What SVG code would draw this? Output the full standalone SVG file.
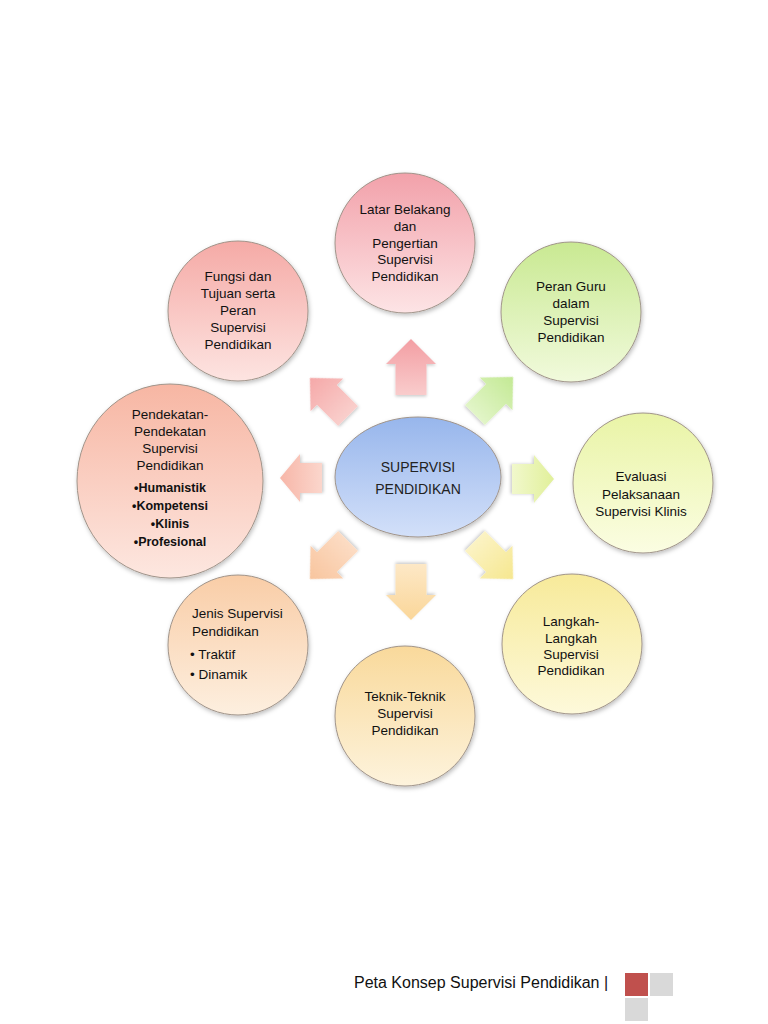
<svg xmlns="http://www.w3.org/2000/svg" width="768" height="1024" viewBox="0 0 768 1024">
<style>
.t{font-family:"Liberation Sans",Arial,sans-serif;font-size:13.5px;fill:#111;text-anchor:middle}
.b{font-family:"Liberation Sans",Arial,sans-serif;font-size:12.5px;font-weight:bold;fill:#111;text-anchor:middle}
.l{font-family:"Liberation Sans",Arial,sans-serif;font-size:13.5px;fill:#111}
.c{font-family:"Liberation Sans",Arial,sans-serif;font-size:14px;fill:#222;text-anchor:middle}
.n{stroke:#a0948a;stroke-width:1;filter:url(#sh)}
.a{filter:url(#ash)}
</style>
<defs>
<filter id="sh" x="-20%" y="-20%" width="140%" height="140%"><feDropShadow dx="1" dy="2" stdDeviation="2" flood-color="#000" flood-opacity="0.25"/></filter>
<filter id="ash" x="-30%" y="-30%" width="160%" height="160%"><feDropShadow dx="0" dy="1.5" stdDeviation="1.5" flood-color="#000" flood-opacity="0.2"/></filter>
<linearGradient id="g1" x1="0" y1="0" x2="0" y2="1"><stop offset="0" stop-color="#f2a1aa"/><stop offset="1" stop-color="#fde4e5"/></linearGradient>
<linearGradient id="g2" x1="0" y1="0" x2="0" y2="1"><stop offset="0" stop-color="#f5aaa6"/><stop offset="1" stop-color="#fde4e1"/></linearGradient>
<linearGradient id="g3" x1="0" y1="0" x2="0" y2="1"><stop offset="0" stop-color="#c9e992"/><stop offset="1" stop-color="#f1fadc"/></linearGradient>
<linearGradient id="g4" x1="0" y1="0" x2="0" y2="1"><stop offset="0" stop-color="#f7b6a3"/><stop offset="1" stop-color="#fde7e0"/></linearGradient>
<linearGradient id="g5" x1="0" y1="0" x2="0" y2="1"><stop offset="0" stop-color="#e9f4a6"/><stop offset="1" stop-color="#fbfde2"/></linearGradient>
<linearGradient id="g6" x1="0" y1="0" x2="0" y2="1"><stop offset="0" stop-color="#f9cda7"/><stop offset="1" stop-color="#fdefdf"/></linearGradient>
<linearGradient id="g7" x1="0" y1="0" x2="0" y2="1"><stop offset="0" stop-color="#f7ea9a"/><stop offset="1" stop-color="#fdf9da"/></linearGradient>
<linearGradient id="g8" x1="0" y1="0" x2="0" y2="1"><stop offset="0" stop-color="#f9d99b"/><stop offset="1" stop-color="#fdf3dc"/></linearGradient>
<linearGradient id="gc" x1="0" y1="0" x2="0" y2="1"><stop offset="0" stop-color="#97b6ec"/><stop offset="1" stop-color="#d3e0f9"/></linearGradient>
<linearGradient id="au" x1="0" y1="0" x2="0" y2="1"><stop offset="0" stop-color="#f39ea3"/><stop offset="1" stop-color="#f9cccc"/></linearGradient>
<linearGradient id="aul" x1="0" y1="0" x2="0" y2="1"><stop offset="0" stop-color="#f5a8a8"/><stop offset="1" stop-color="#f9cfcc"/></linearGradient>
<linearGradient id="al" x1="0" y1="0" x2="0" y2="1"><stop offset="0" stop-color="#f7b6a8"/><stop offset="1" stop-color="#fbd6cc"/></linearGradient>
<linearGradient id="adl" x1="0" y1="0" x2="0" y2="1"><stop offset="0" stop-color="#f8c59e"/><stop offset="1" stop-color="#fcdcc4"/></linearGradient>
<linearGradient id="ad" x1="0" y1="0" x2="0" y2="1"><stop offset="0" stop-color="#fad699"/><stop offset="1" stop-color="#fde8c6"/></linearGradient>
<linearGradient id="adr" x1="0" y1="0" x2="0" y2="1"><stop offset="0" stop-color="#f6e78f"/><stop offset="1" stop-color="#fbf3c4"/></linearGradient>
<linearGradient id="ar" x1="0" y1="0" x2="0" y2="1"><stop offset="0" stop-color="#e1f09a"/><stop offset="1" stop-color="#f1f8cc"/></linearGradient>
<linearGradient id="aur" x1="0" y1="0" x2="0" y2="1"><stop offset="0" stop-color="#c3e994"/><stop offset="1" stop-color="#e2f5c8"/></linearGradient>
<path id="av" d="M0,-28 L25,-3 L15.5,-3 L15.5,28 L-15.5,28 L-15.5,-3 L-25,-3 Z"/>
<path id="ah" d="M0,-21 L24,-1 L15,-1 L15,21 L-15,21 L-15,-1 L-24,-1 Z"/>
<path id="ag" d="M0,-27 L23,-3 L14,-3 L14,27 L-14,27 L-14,-3 L-23,-3 Z"/>
</defs>
<rect width="768" height="1024" fill="#fff"/>

<g id="connectors">
<use href="#av" fill="url(#au)" class="a" transform="translate(411,367)"/>
<use href="#ag" fill="url(#aur)" class="a" transform="translate(494,396) rotate(45)"/>
<use href="#ah" fill="url(#ar)" class="a" transform="translate(533,479) rotate(90)"/>
<use href="#ag" fill="url(#adr)" class="a" transform="translate(494,560) rotate(135)"/>
<use href="#av" fill="url(#ad)" class="a" transform="translate(411,592) rotate(180)"/>
<use href="#ag" fill="url(#adl)" class="a" transform="translate(329,560) rotate(225)"/>
<use href="#ah" fill="url(#al)" class="a" transform="translate(301,478) rotate(270)"/>
<use href="#ag" fill="url(#aul)" class="a" transform="translate(329,397) rotate(315)"/>
</g>

<g id="node-center">
<ellipse class="n" cx="418" cy="477" rx="83" ry="60" fill="url(#gc)" stroke="#5b6f98"/>
<text class="c" x="418" y="472">SUPERVISI</text>
<text class="c" x="418" y="494">PENDIDIKAN</text>
</g>

<g id="node-latar">
<circle class="n" cx="405" cy="243" r="70" fill="url(#g1)"/>
<text class="t" x="405" y="214">Latar Belakang</text>
<text class="t" x="405" y="231">dan</text>
<text class="t" x="405" y="248">Pengertian</text>
<text class="t" x="405" y="264">Supervisi</text>
<text class="t" x="405" y="281">Pendidikan</text>
</g>

<g id="node-fungsi">
<circle class="n" cx="238" cy="311" r="70" fill="url(#g2)"/>
<text class="t" x="238" y="281">Fungsi dan</text>
<text class="t" x="238" y="298">Tujuan serta</text>
<text class="t" x="238" y="315">Peran</text>
<text class="t" x="238" y="332">Supervisi</text>
<text class="t" x="238" y="349">Pendidikan</text>
</g>

<g id="node-peran">
<circle class="n" cx="571" cy="312" r="70" fill="url(#g3)"/>
<text class="t" x="571" y="291">Peran Guru</text>
<text class="t" x="571" y="308">dalam</text>
<text class="t" x="571" y="325">Supervisi</text>
<text class="t" x="571" y="342">Pendidikan</text>
</g>

<g id="node-pendekatan">
<ellipse class="n" cx="170" cy="481" rx="93" ry="97" fill="url(#g4)"/>
<text class="t" x="170" y="419">Pendekatan-</text>
<text class="t" x="170" y="436">Pendekatan</text>
<text class="t" x="170" y="453">Supervisi</text>
<text class="t" x="170" y="470">Pendidikan</text>
<text class="b" x="170" y="492">•Humanistik</text>
<text class="b" x="170" y="510">•Kompetensi</text>
<text class="b" x="170" y="528">•Klinis</text>
<text class="b" x="170" y="546">•Profesional</text>
</g>

<g id="node-evaluasi">
<circle class="n" cx="643" cy="483" r="70" fill="url(#g5)"/>
<text class="t" x="641" y="481">Evaluasi</text>
<text class="t" x="641" y="499">Pelaksanaan</text>
<text class="t" x="641" y="516">Supervisi Klinis</text>
</g>

<g id="node-jenis">
<circle class="n" cx="238" cy="645" r="70" fill="url(#g6)"/>
<text class="l" x="192" y="618">Jenis Supervisi</text>
<text class="l" x="192" y="636">Pendidikan</text>
<text class="l" x="190" y="659">• Traktif</text>
<text class="l" x="190" y="679">• Dinamik</text>
</g>

<g id="node-langkah">
<circle class="n" cx="572" cy="644" r="70" fill="url(#g7)"/>
<text class="t" x="571" y="626">Langkah-</text>
<text class="t" x="571" y="643">Langkah</text>
<text class="t" x="571" y="659">Supervisi</text>
<text class="t" x="571" y="675">Pendidikan</text>
</g>

<g id="node-teknik">
<circle class="n" cx="405" cy="716" r="70" fill="url(#g8)"/>
<text class="t" x="405" y="701">Teknik-Teknik</text>
<text class="t" x="405" y="718">Supervisi</text>
<text class="t" x="405" y="735">Pendidikan</text>
</g>

<g id="footer">
<text class="l" x="354" y="988" style="font-size:16px">Peta Konsep Supervisi Pendidikan |</text>
<rect x="625" y="973" width="23" height="23" fill="#c0504d"/>
<rect x="650" y="973" width="23" height="23" fill="#d9d9d9"/>
<rect x="625" y="998" width="23" height="23" fill="#d9d9d9"/>
</g>
</svg>
